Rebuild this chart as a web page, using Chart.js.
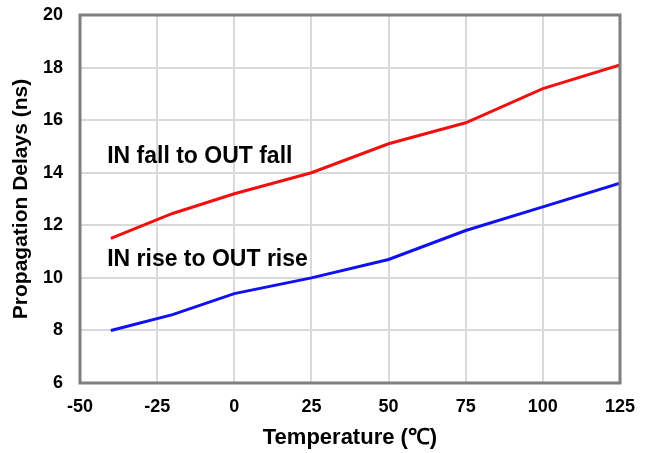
<!DOCTYPE html>
<html>
<head>
<meta charset="utf-8">
<script src="https://cdn.jsdelivr.net/npm/chart.js@4/dist/chart.umd.min.js"></script>
<style>
  html, body { margin: 0; padding: 0; background: #fff; }
  #wrap { width: 650px; height: 453px; }
</style>
</head>
<body>
<div id="wrap"><canvas id="chart"></canvas></div>
<script>
const temps = [-40, -20, 0, 25, 50, 75, 100, 125];
const fallDelay = [11.5, 12.45, 13.2, 14.0, 15.1, 15.9, 17.2, 18.1];
const riseDelay = [8.0, 8.6, 9.4, 10.0, 10.7, 11.8, 12.7, 13.6];
const curveLabels = ['IN fall to OUT fall', 'IN rise to OUT rise'];

const FONT = 'Liberation Sans, Arial, sans-serif';

// text labels next to curves + grey frame round the plot
const extras = {
  id: 'extras',
  afterDatasetsDraw(chart) {
    const { ctx, chartArea, scales } = chart;
    ctx.save();
    ctx.font = 'bold 23px ' + FONT;
    ctx.fillStyle = '#000';
    ctx.textBaseline = 'middle';
    ctx.textAlign = 'left';
    ctx.fillText(curveLabels[0], scales.x.getPixelForValue(-41.2), scales.y.getPixelForValue(14.62));
    ctx.fillText(curveLabels[1], scales.x.getPixelForValue(-41.2), scales.y.getPixelForValue(10.7));
    ctx.strokeStyle = '#7f7f7f';
    ctx.lineWidth = 3;
    ctx.strokeRect(chartArea.left, chartArea.top, chartArea.right - chartArea.left, chartArea.bottom - chartArea.top);
    ctx.restore();
  }
};

new Chart(document.getElementById('chart').getContext('2d'), {
  type: 'line',
  data: {
    datasets: [
      {
        label: curveLabels[0],
        data: temps.map((t, i) => ({ x: t, y: fallDelay[i] })),
        borderColor: '#f01010',
        borderWidth: 3,
        pointRadius: 0,
        tension: 0
      },
      {
        label: curveLabels[1],
        data: temps.map((t, i) => ({ x: t, y: riseDelay[i] })),
        borderColor: '#1010f0',
        borderWidth: 3,
        pointRadius: 0,
        tension: 0
      }
    ]
  },
  options: {
    responsive: true,
    maintainAspectRatio: false,
    animation: false,
    layout: { padding: { top: 15, right: 30, bottom: 0, left: 4 } },
    plugins: {
      legend: { display: false },
      tooltip: { enabled: false }
    },
    scales: {
      x: {
        type: 'linear',
        min: -50,
        max: 125,
        afterFit(scale) {
          scale.height = 70;
          scale.paddingLeft = 0;
          scale.paddingRight = 0;
        },
        ticks: {
          stepSize: 25,
          color: '#000',
          font: { family: FONT, size: 18, weight: 'bold' },
          padding: 13
        },
        grid: { color: '#d9d9d9', lineWidth: 2, drawTicks: false },
        border: { display: false },
        title: {
          display: true,
          text: 'Temperature (℃)',
          color: '#000',
          font: { family: FONT, size: 22, weight: 'bold' },
          padding: { top: 6, bottom: 2 }
        }
      },
      y: {
        min: 6,
        max: 20,
        afterFit(scale) {
          scale.width = 76;
          scale.paddingTop = 0;
          scale.paddingBottom = 0;
        },
        ticks: {
          stepSize: 2,
          color: '#000',
          font: { family: FONT, size: 18, weight: 'bold' },
          padding: 17
        },
        grid: { color: '#d9d9d9', lineWidth: 2, drawTicks: false },
        border: { display: false },
        title: {
          display: true,
          text: 'Propagation Delays (ns)',
          color: '#000',
          font: { family: FONT, size: 21, weight: 'bold' },
          padding: { top: 5, bottom: 8 }
        }
      }
    }
  },
  plugins: [extras]
});
</script>
</body>
</html>
